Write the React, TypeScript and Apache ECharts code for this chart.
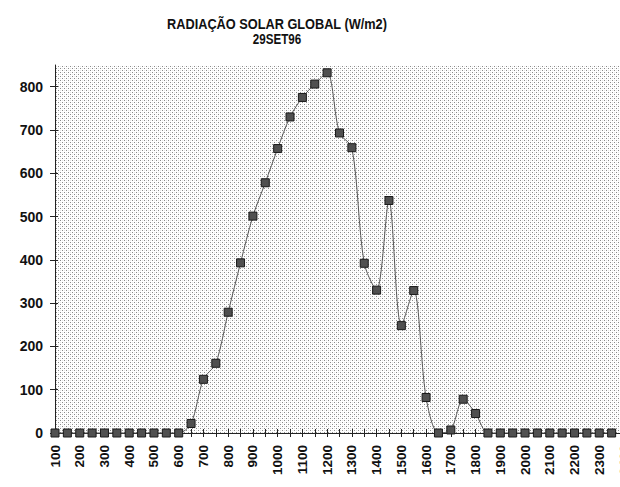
import React, { useEffect, useRef } from "react";
import * as echarts from "echarts";

const categories: string[] = [
  "100", "130", "200", "230", "300", "330", "400", "430", "500", "530",
  "600", "630", "700", "730", "800", "830", "900", "930", "1000", "1030",
  "1100", "1130", "1200", "1230", "1300", "1330", "1400", "1430", "1500", "1530",
  "1600", "1630", "1700", "1730", "1800", "1830", "1900", "1930", "2000", "2030",
  "2100", "2130", "2200", "2230", "2300", "2330", "2400",
];

const radiation: (number | null)[] = [
  0, 0, 0, 0, 0, 0, 0, 0, 0, 0,
  0, 22, 124, 161, 279, 393, 501, 578, 657, 730,
  775, 806, 832, 693, 659, 392, 330, 537, 248, 329,
  82, 0, 7, 78, 45, 0, 0, 0, 0, 0,
  0, 0, 0, 0, 0, 0, null,
];

const yTicks: number[] = [0, 100, 200, 300, 400, 500, 600, 700, 800];

const titleLine1 = "RADIAÇÃO SOLAR GLOBAL (W/m2)";
const titleLine2 = "29SET96";

function makeStipple(): any {
  const c = document.createElement("canvas");
  c.width = 4;
  c.height = 4;
  const ctx = c.getContext("2d");
  if (ctx) {
    ctx.fillStyle = "#ffffff";
    ctx.fillRect(0, 0, 4, 4);
    ctx.fillStyle = "#8a8a8a";
    ctx.fillRect(0, 0, 1, 1);
    ctx.fillRect(2, 2, 1, 1);
    ctx.fillStyle = "#e6e6e6";
    ctx.fillRect(2, 0, 1, 1);
    ctx.fillRect(0, 2, 1, 1);
  }
  return {
    image: c.toDataURL(),
    imageWidth: 4,
    imageHeight: 4,
    repeat: "repeat",
  };
}

export default function App() {
  const ref = useRef<HTMLDivElement>(null);

  useEffect(() => {
    if (!ref.current) return;
    const chart = echarts.init(ref.current, undefined, { renderer: "svg" });
    const labelFont = "'Liberation Sans', Arial, sans-serif";
    chart.setOption({
      animation: false,
      backgroundColor: "#ffffff",
      graphic: [
        {
          type: "text",
          x: 277,
          y: 23.5,
          scaleX: 0.85,
          style: {
            text: titleLine1,
            font: `bold 15px ${labelFont}`,
            fill: "#111",
            textAlign: "center",
            textVerticalAlign: "middle",
          },
        },
        {
          type: "text",
          x: 277,
          y: 39.5,
          scaleX: 0.8,
          style: {
            text: titleLine2,
            font: `bold 14.5px ${labelFont}`,
            fill: "#111",
            textAlign: "center",
            textVerticalAlign: "middle",
          },
        },
      ],
      grid: {
        left: 55,
        right: -4,
        top: 65,
        bottom: 54,
        show: true,
        borderWidth: 0,
        backgroundColor: makeStipple(),
        outerBoundsMode: "none",
        containLabel: false,
      },
      xAxis: [
        {
          type: "category",
          data: categories,
          boundaryGap: false,
          axisLine: { show: true, lineStyle: { color: "#222", width: 1 } },
          axisTick: { show: true, interval: 0, length: 4, lineStyle: { color: "#222" } },
          axisLabel: {
            interval: 1,
            rotate: 90,
            margin: 12,
            color: "#111",
            fontSize: 13.5,
            fontWeight: "bold",
            fontFamily: labelFont,
          },
          splitLine: { show: false },
        },
        {
          type: "category",
          data: categories,
          boundaryGap: false,
          position: "bottom",
          axisLine: { show: false },
          axisTick: { show: true, inside: true, interval: 0, length: 4, lineStyle: { color: "#222" } },
          axisLabel: { show: false },
          splitLine: { show: false },
        },
      ],
      yAxis: [
        {
          type: "value",
          min: 0,
          max: 850,
          interval: 100,
          axisLine: { show: true, lineStyle: { color: "#222", width: 1 } },
          axisTick: { show: true, length: 5, lineStyle: { color: "#222" }, customValues: yTicks },
          axisLabel: {
            margin: 12,
            color: "#111",
            fontSize: 14,
            fontWeight: "bold",
            fontFamily: labelFont,
            customValues: yTicks,
          },
          splitLine: { show: false },
        },
        {
          type: "value",
          min: 0,
          max: 850,
          interval: 100,
          position: "left",
          axisLine: { show: false },
          axisTick: { show: true, inside: true, length: 3, lineStyle: { color: "#222" }, customValues: yTicks },
          axisLabel: { show: false },
          splitLine: { show: false },
        },
      ],
      series: [
        {
          type: "line",
          data: radiation,
          xAxisIndex: 0,
          yAxisIndex: 0,
          smooth: 0.3,
          symbol: "rect",
          symbolSize: 8,
          showSymbol: true,
          connectNulls: false,
          lineStyle: { color: "#555", width: 1 },
          itemStyle: { color: "#505050", borderColor: "#1a1a1a", borderWidth: 1 },
          clip: false,
        },
      ],
    });
    return () => chart.dispose();
  }, []);

  return (
    <div
      ref={ref}
      style={{ position: "fixed", left: 0, top: 0, width: 620, height: 487 }}
    />
  );
}
